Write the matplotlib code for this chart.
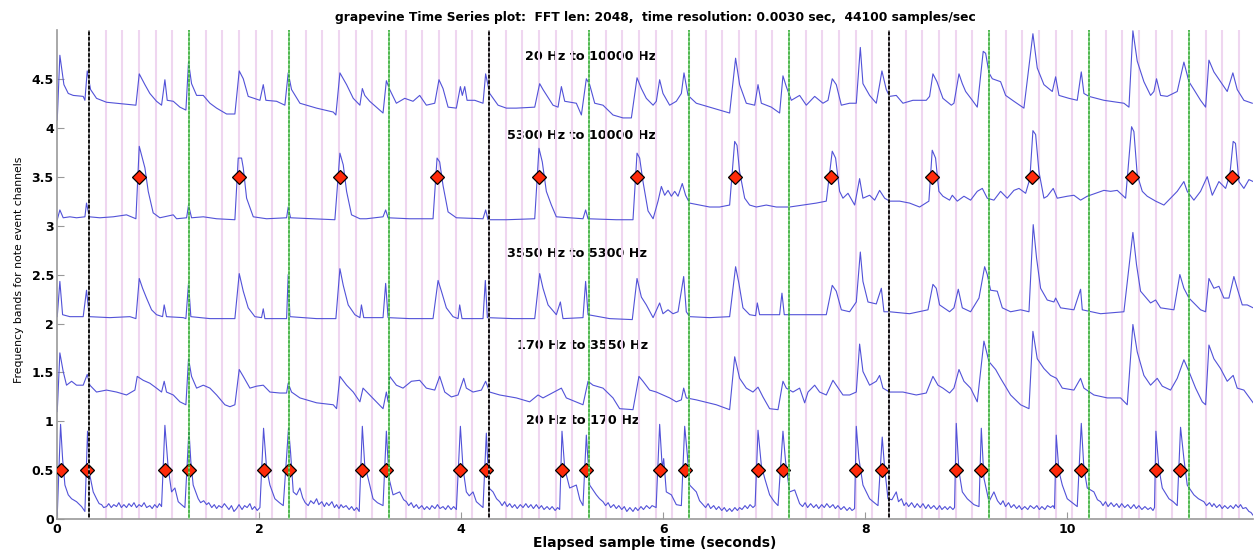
#!/usr/bin/env python3
# coding: utf-8

"""
grapevine 时间序列图：各频带能量曲线 + 节拍网格 + 音符事件标记
"""

import numpy as np
import matplotlib.pyplot as plt

plt.rcParams['font.family'] = ['DejaVu Sans']

# ---------------- 数据 ----------------
# 各频带曲线 (时间秒, 数值)
band1_pts = [
    (0.000, 4.08), (0.026, 4.74), (0.066, 4.44), (0.109, 4.35), (0.158, 4.33), (0.257, 4.32), (0.274, 4.28),
    (0.297, 4.58), (0.330, 4.39), (0.389, 4.30), (0.488, 4.26), (0.686, 4.24), (0.779, 4.23), (0.812, 4.55),
    (0.868, 4.44), (0.917, 4.35), (0.983, 4.27), (1.033, 4.23), (1.066, 4.49), (1.089, 4.28), (1.149, 4.27),
    (1.215, 4.21), (1.274, 4.18), (1.300, 4.67), (1.330, 4.45), (1.380, 4.33), (1.446, 4.33), (1.512, 4.25),
    (1.578, 4.20), (1.677, 4.14), (1.759, 4.14), (1.802, 4.58), (1.842, 4.50), (1.891, 4.32), (2.007, 4.28),
    (2.040, 4.44), (2.066, 4.28), (2.172, 4.27), (2.254, 4.23), (2.287, 4.56), (2.320, 4.39), (2.403, 4.25),
    (2.568, 4.20), (2.733, 4.16), (2.759, 4.13), (2.799, 4.56), (2.865, 4.44), (2.931, 4.30), (2.997, 4.23),
    (3.021, 4.40), (3.045, 4.33), (3.094, 4.27), (3.193, 4.18), (3.226, 4.15), (3.259, 4.48), (3.292, 4.39),
    (3.358, 4.25), (3.441, 4.30), (3.523, 4.27), (3.589, 4.33), (3.655, 4.23), (3.738, 4.25), (3.780, 4.49),
    (3.820, 4.40), (3.870, 4.21), (3.952, 4.20), (3.992, 4.42), (4.011, 4.33), (4.035, 4.42), (4.058, 4.28),
    (4.134, 4.28), (4.216, 4.25), (4.242, 4.55), (4.282, 4.35), (4.365, 4.23), (4.447, 4.20), (4.546, 4.20),
    (4.728, 4.21), (4.777, 4.45), (4.810, 4.39), (4.909, 4.23), (4.959, 4.21), (4.992, 4.42), (5.025, 4.27),
    (5.140, 4.25), (5.190, 4.13), (5.239, 4.50), (5.272, 4.44), (5.322, 4.25), (5.404, 4.23), (5.503, 4.13),
    (5.602, 4.10), (5.685, 4.10), (5.741, 4.51), (5.784, 4.40), (5.833, 4.30), (5.900, 4.23), (5.932, 4.27),
    (5.965, 4.49), (5.998, 4.35), (6.064, 4.23), (6.130, 4.27), (6.180, 4.35), (6.206, 4.56), (6.246, 4.33),
    (6.328, 4.25), (6.460, 4.21), (6.625, 4.16), (6.658, 4.15), (6.717, 4.71), (6.757, 4.44), (6.823, 4.25),
    (6.906, 4.23), (6.939, 4.44), (6.972, 4.25), (7.071, 4.21), (7.153, 4.15), (7.186, 4.53), (7.219, 4.42),
    (7.269, 4.28), (7.351, 4.33), (7.417, 4.23), (7.500, 4.32), (7.582, 4.25), (7.632, 4.28), (7.674, 4.50),
    (7.714, 4.44), (7.764, 4.23), (7.846, 4.25), (7.912, 4.25), (7.952, 4.82), (7.978, 4.45), (8.044, 4.33),
    (8.110, 4.25), (8.143, 4.44), (8.166, 4.58), (8.209, 4.39), (8.242, 4.32), (8.308, 4.33), (8.374, 4.25),
    (8.473, 4.28), (8.605, 4.28), (8.638, 4.32), (8.671, 4.55), (8.711, 4.47), (8.770, 4.30), (8.853, 4.23),
    (8.879, 4.25), (8.929, 4.55), (8.962, 4.45), (8.995, 4.37), (9.061, 4.28), (9.110, 4.21), (9.169, 4.78),
    (9.193, 4.76), (9.226, 4.56), (9.259, 4.50), (9.341, 4.47), (9.391, 4.33), (9.473, 4.27), (9.572, 4.20),
    (9.661, 4.96), (9.704, 4.61), (9.770, 4.44), (9.853, 4.37), (9.886, 4.52), (9.919, 4.33), (10.018, 4.30),
    (10.100, 4.28), (10.140, 4.57), (10.166, 4.35), (10.216, 4.32), (10.364, 4.28), (10.562, 4.25),
    (10.612, 4.21), (10.651, 4.99), (10.694, 4.68), (10.760, 4.47), (10.826, 4.33), (10.859, 4.37),
    (10.885, 4.50), (10.925, 4.33), (10.991, 4.32), (11.090, 4.37), (11.156, 4.67), (11.206, 4.47),
    (11.255, 4.39), (11.321, 4.28), (11.371, 4.21), (11.404, 4.69), (11.453, 4.57), (11.519, 4.47),
    (11.585, 4.37), (11.641, 4.56), (11.684, 4.39), (11.750, 4.28), (11.833, 4.25),
]

band2_pts = [
    (0.000, 3.06), (0.026, 3.16), (0.059, 3.08), (0.125, 3.09), (0.191, 3.08), (0.274, 3.09), (0.290, 3.23),
    (0.317, 3.09), (0.422, 3.08), (0.554, 3.09), (0.686, 3.11), (0.779, 3.07), (0.812, 3.81), (0.835, 3.72),
    (0.868, 3.59), (0.901, 3.35), (0.950, 3.13), (1.016, 3.08), (1.149, 3.11), (1.182, 3.07), (1.281, 3.08),
    (1.300, 3.21), (1.330, 3.08), (1.446, 3.09), (1.578, 3.07), (1.759, 3.06), (1.792, 3.69), (1.825, 3.69),
    (1.842, 3.59), (1.875, 3.28), (1.941, 3.09), (2.073, 3.07), (2.271, 3.08), (2.287, 3.19), (2.310, 3.08),
    (2.535, 3.07), (2.749, 3.06), (2.799, 3.74), (2.832, 3.62), (2.865, 3.35), (2.914, 3.11), (2.997, 3.07),
    (3.061, 3.07), (3.226, 3.09), (3.252, 3.16), (3.276, 3.08), (3.490, 3.07), (3.721, 3.07), (3.761, 3.69),
    (3.787, 3.65), (3.820, 3.41), (3.870, 3.14), (3.952, 3.08), (4.216, 3.07), (4.242, 3.16), (4.266, 3.06),
    (4.447, 3.06), (4.728, 3.07), (4.770, 3.79), (4.803, 3.65), (4.843, 3.35), (4.893, 3.21), (4.942, 3.09),
    (5.206, 3.07), (5.232, 3.16), (5.256, 3.07), (5.536, 3.06), (5.701, 3.06), (5.741, 3.74), (5.767, 3.69),
    (5.800, 3.45), (5.850, 3.15), (5.900, 3.07), (5.949, 3.25), (5.982, 3.40), (6.015, 3.31), (6.048, 3.36),
    (6.081, 3.30), (6.114, 3.35), (6.147, 3.30), (6.189, 3.43), (6.222, 3.31), (6.262, 3.23), (6.361, 3.21),
    (6.460, 3.19), (6.559, 3.19), (6.658, 3.21), (6.708, 3.86), (6.731, 3.82), (6.757, 3.55), (6.807, 3.28),
    (6.856, 3.21), (6.922, 3.19), (7.021, 3.21), (7.120, 3.19), (7.252, 3.19), (7.384, 3.21), (7.516, 3.23),
    (7.615, 3.25), (7.674, 3.76), (7.707, 3.69), (7.747, 3.35), (7.780, 3.28), (7.830, 3.33), (7.896, 3.21),
    (7.945, 3.48), (7.978, 3.28), (8.044, 3.31), (8.094, 3.26), (8.143, 3.36), (8.193, 3.28), (8.242, 3.25),
    (8.341, 3.25), (8.440, 3.23), (8.539, 3.19), (8.631, 3.25), (8.664, 3.77), (8.697, 3.69), (8.730, 3.35),
    (8.770, 3.30), (8.836, 3.26), (8.863, 3.31), (8.912, 3.25), (8.978, 3.30), (9.044, 3.26), (9.110, 3.35),
    (9.160, 3.38), (9.209, 3.28), (9.275, 3.26), (9.341, 3.35), (9.407, 3.28), (9.473, 3.36), (9.523, 3.38),
    (9.589, 3.33), (9.631, 3.48), (9.661, 3.97), (9.688, 3.93), (9.721, 3.55), (9.770, 3.28), (9.803, 3.30),
    (9.862, 3.38), (9.902, 3.28), (10.001, 3.30), (10.067, 3.31), (10.133, 3.26), (10.199, 3.30),
    (10.282, 3.33), (10.364, 3.36), (10.430, 3.35), (10.496, 3.36), (10.579, 3.28), (10.638, 4.01),
    (10.661, 3.96), (10.694, 3.52), (10.744, 3.35), (10.793, 3.30), (10.876, 3.25), (10.958, 3.21),
    (11.024, 3.28), (11.090, 3.35), (11.156, 3.45), (11.189, 3.35), (11.255, 3.26), (11.321, 3.35),
    (11.387, 3.50), (11.437, 3.31), (11.503, 3.45), (11.569, 3.38), (11.611, 3.52), (11.644, 3.86),
    (11.667, 3.84), (11.701, 3.45), (11.750, 3.38), (11.800, 3.47), (11.842, 3.45),
]

band3_pts = [
    (0.000, 2.07), (0.026, 2.43), (0.053, 2.09), (0.125, 2.07), (0.257, 2.07), (0.290, 2.34), (0.317, 2.07),
    (0.521, 2.06), (0.719, 2.07), (0.779, 2.05), (0.812, 2.46), (0.845, 2.36), (0.884, 2.26), (0.934, 2.14),
    (0.983, 2.09), (1.043, 2.07), (1.059, 2.19), (1.082, 2.07), (1.248, 2.06), (1.274, 2.05), (1.300, 2.41),
    (1.323, 2.07), (1.512, 2.05), (1.759, 2.05), (1.802, 2.51), (1.842, 2.33), (1.891, 2.16), (1.957, 2.07),
    (2.023, 2.06), (2.040, 2.15), (2.056, 2.05), (2.271, 2.05), (2.287, 2.50), (2.304, 2.07), (2.568, 2.05),
    (2.759, 2.05), (2.799, 2.56), (2.832, 2.39), (2.881, 2.19), (2.947, 2.09), (2.997, 2.06), (3.012, 2.19),
    (3.035, 2.06), (3.226, 2.06), (3.252, 2.41), (3.276, 2.06), (3.490, 2.05), (3.721, 2.05), (3.771, 2.44),
    (3.804, 2.33), (3.853, 2.16), (3.919, 2.07), (3.969, 2.05), (3.985, 2.19), (4.008, 2.05), (4.216, 2.05),
    (4.239, 2.44), (4.259, 2.06), (4.513, 2.05), (4.728, 2.05), (4.777, 2.51), (4.810, 2.36), (4.860, 2.19),
    (4.942, 2.09), (4.982, 2.22), (5.008, 2.05), (5.206, 2.06), (5.232, 2.43), (5.256, 2.09), (5.470, 2.05),
    (5.694, 2.04), (5.741, 2.46), (5.784, 2.27), (5.833, 2.19), (5.900, 2.06), (5.965, 2.21), (5.998, 2.10),
    (6.048, 2.14), (6.097, 2.10), (6.147, 2.12), (6.203, 2.48), (6.229, 2.12), (6.262, 2.07), (6.460, 2.06),
    (6.658, 2.07), (6.717, 2.58), (6.750, 2.41), (6.790, 2.16), (6.856, 2.09), (6.915, 2.08), (6.932, 2.21),
    (6.955, 2.09), (7.153, 2.09), (7.176, 2.31), (7.199, 2.09), (7.384, 2.09), (7.615, 2.09), (7.674, 2.39),
    (7.714, 2.33), (7.764, 2.14), (7.846, 2.12), (7.912, 2.22), (7.952, 2.73), (7.978, 2.43), (8.028, 2.22),
    (8.110, 2.20), (8.160, 2.36), (8.186, 2.12), (8.242, 2.12), (8.440, 2.10), (8.622, 2.14), (8.671, 2.40),
    (8.704, 2.36), (8.737, 2.19), (8.836, 2.12), (8.879, 2.16), (8.922, 2.35), (8.962, 2.16), (9.044, 2.12),
    (9.127, 2.26), (9.183, 2.58), (9.209, 2.50), (9.242, 2.34), (9.308, 2.33), (9.358, 2.16), (9.440, 2.12),
    (9.539, 2.14), (9.622, 2.12), (9.664, 3.01), (9.697, 2.67), (9.737, 2.36), (9.803, 2.24), (9.869, 2.22),
    (9.886, 2.26), (9.935, 2.16), (10.067, 2.14), (10.133, 2.35), (10.150, 2.14), (10.331, 2.10),
    (10.562, 2.12), (10.651, 2.93), (10.687, 2.60), (10.727, 2.33), (10.826, 2.21), (10.876, 2.24),
    (10.925, 2.16), (11.057, 2.14), (11.116, 2.50), (11.156, 2.36), (11.206, 2.26), (11.321, 2.14),
    (11.371, 2.12), (11.404, 2.46), (11.453, 2.36), (11.503, 2.38), (11.552, 2.26), (11.602, 2.26),
    (11.651, 2.48), (11.684, 2.36), (11.734, 2.19), (11.783, 2.19), (11.842, 2.16),
]

band4_pts = [
    (0.000, 1.10), (0.026, 1.70), (0.059, 1.51), (0.092, 1.37), (0.142, 1.41), (0.191, 1.37), (0.257, 1.37),
    (0.297, 1.48), (0.323, 1.37), (0.389, 1.30), (0.488, 1.32), (0.587, 1.30), (0.686, 1.27), (0.769, 1.32),
    (0.792, 1.46), (0.851, 1.42), (0.917, 1.39), (0.983, 1.34), (1.033, 1.30), (1.059, 1.41), (1.082, 1.30),
    (1.149, 1.27), (1.215, 1.20), (1.274, 1.17), (1.300, 1.64), (1.330, 1.46), (1.380, 1.34), (1.446, 1.37),
    (1.512, 1.34), (1.578, 1.27), (1.660, 1.17), (1.710, 1.15), (1.759, 1.17), (1.802, 1.53), (1.842, 1.46),
    (1.908, 1.34), (1.974, 1.36), (2.040, 1.37), (2.106, 1.30), (2.205, 1.29), (2.271, 1.29), (2.287, 1.39),
    (2.320, 1.30), (2.403, 1.24), (2.568, 1.19), (2.733, 1.17), (2.766, 1.13), (2.799, 1.46), (2.865, 1.37),
    (2.931, 1.30), (2.997, 1.20), (3.028, 1.34), (3.094, 1.27), (3.160, 1.20), (3.226, 1.13), (3.259, 1.30),
    (3.276, 1.20), (3.292, 1.46), (3.358, 1.37), (3.424, 1.34), (3.507, 1.41), (3.589, 1.42), (3.655, 1.34),
    (3.738, 1.32), (3.787, 1.46), (3.837, 1.30), (3.903, 1.25), (3.969, 1.27), (4.025, 1.44), (4.051, 1.34),
    (4.117, 1.30), (4.200, 1.32), (4.242, 1.41), (4.282, 1.30), (4.381, 1.27), (4.546, 1.24), (4.678, 1.20),
    (4.761, 1.27), (4.810, 1.24), (4.992, 1.34), (5.041, 1.24), (5.206, 1.17), (5.256, 1.41), (5.305, 1.37),
    (5.404, 1.34), (5.503, 1.24), (5.569, 1.13), (5.701, 1.12), (5.760, 1.46), (5.800, 1.41), (5.866, 1.32),
    (5.932, 1.30), (5.998, 1.27), (6.064, 1.24), (6.130, 1.20), (6.180, 1.22), (6.203, 1.34), (6.229, 1.24),
    (6.328, 1.22), (6.526, 1.17), (6.658, 1.12), (6.708, 1.66), (6.757, 1.44), (6.823, 1.34), (6.889, 1.30),
    (6.939, 1.35), (6.988, 1.25), (7.054, 1.13), (7.137, 1.12), (7.186, 1.41), (7.219, 1.34), (7.285, 1.30),
    (7.351, 1.34), (7.401, 1.19), (7.434, 1.30), (7.500, 1.37), (7.549, 1.30), (7.615, 1.27), (7.681, 1.42),
    (7.714, 1.37), (7.780, 1.27), (7.846, 1.27), (7.912, 1.30), (7.945, 1.79), (7.978, 1.51), (8.044, 1.37),
    (8.110, 1.41), (8.143, 1.47), (8.176, 1.34), (8.242, 1.30), (8.374, 1.30), (8.506, 1.27), (8.605, 1.29),
    (8.671, 1.46), (8.721, 1.37), (8.770, 1.34), (8.836, 1.29), (8.879, 1.34), (8.929, 1.53), (8.978, 1.41),
    (9.044, 1.34), (9.110, 1.20), (9.176, 1.82), (9.226, 1.61), (9.292, 1.53), (9.341, 1.44), (9.440, 1.27),
    (9.539, 1.17), (9.622, 1.13), (9.661, 1.92), (9.704, 1.64), (9.770, 1.54), (9.836, 1.47), (9.895, 1.44),
    (9.952, 1.34), (10.067, 1.32), (10.133, 1.44), (10.166, 1.34), (10.265, 1.27), (10.397, 1.24),
    (10.529, 1.24), (10.595, 1.17), (10.651, 1.99), (10.694, 1.71), (10.760, 1.47), (10.826, 1.37),
    (10.892, 1.44), (10.942, 1.36), (11.024, 1.32), (11.090, 1.44), (11.156, 1.63), (11.206, 1.51),
    (11.272, 1.34), (11.338, 1.20), (11.371, 1.17), (11.404, 1.78), (11.453, 1.64), (11.519, 1.54),
    (11.585, 1.41), (11.644, 1.47), (11.684, 1.34), (11.750, 1.32), (11.842, 1.19),
]

band5_pts = [
    (0.000, 0.04), (0.033, 0.97), (0.053, 0.62), (0.076, 0.35), (0.109, 0.25), (0.142, 0.21), (0.191, 0.18),
    (0.241, 0.13), (0.274, 0.08), (0.300, 0.90), (0.323, 0.45), (0.356, 0.28), (0.389, 0.21), (0.415, 0.16),
    (0.439, 0.15), (0.460, 0.12), (0.488, 0.13), (0.510, 0.16), (0.535, 0.12), (0.560, 0.15), (0.587, 0.13),
    (0.610, 0.17), (0.635, 0.12), (0.660, 0.15), (0.686, 0.12), (0.710, 0.16), (0.735, 0.13), (0.760, 0.17),
    (0.785, 0.12), (0.810, 0.15), (0.835, 0.13), (0.860, 0.17), (0.885, 0.12), (0.917, 0.14), (0.940, 0.11),
    (0.965, 0.15), (0.990, 0.12), (1.012, 0.16), (1.033, 0.13), (1.066, 0.96), (1.099, 0.52), (1.132, 0.28),
    (1.165, 0.32), (1.198, 0.18), (1.230, 0.15), (1.264, 0.12), (1.304, 0.91), (1.323, 0.59), (1.346, 0.35),
    (1.396, 0.21), (1.420, 0.17), (1.450, 0.19), (1.479, 0.15), (1.500, 0.17), (1.530, 0.12), (1.555, 0.15),
    (1.578, 0.11), (1.600, 0.14), (1.630, 0.12), (1.655, 0.16), (1.677, 0.13), (1.700, 0.10), (1.725, 0.14),
    (1.750, 0.08), (1.776, 0.11), (1.800, 0.15), (1.830, 0.10), (1.855, 0.14), (1.880, 0.12), (1.908, 0.16),
    (1.930, 0.10), (1.955, 0.13), (1.980, 0.09), (2.007, 0.12), (2.043, 0.93), (2.073, 0.52), (2.106, 0.35),
    (2.155, 0.21), (2.200, 0.17), (2.238, 0.14), (2.290, 0.93), (2.310, 0.69), (2.337, 0.28), (2.370, 0.25),
    (2.403, 0.32), (2.430, 0.22), (2.455, 0.17), (2.485, 0.14), (2.510, 0.19), (2.540, 0.16), (2.568, 0.21),
    (2.590, 0.15), (2.620, 0.18), (2.645, 0.13), (2.667, 0.17), (2.690, 0.14), (2.720, 0.18), (2.745, 0.12),
    (2.766, 0.15), (2.790, 0.11), (2.810, 0.15), (2.832, 0.12), (2.860, 0.14), (2.890, 0.10), (2.915, 0.13),
    (2.940, 0.09), (2.965, 0.12), (2.990, 0.08), (3.021, 0.95), (3.045, 0.55), (3.078, 0.42), (3.127, 0.21),
    (3.170, 0.17), (3.226, 0.14), (3.259, 0.90), (3.285, 0.42), (3.325, 0.25), (3.391, 0.28), (3.430, 0.20),
    (3.457, 0.18), (3.480, 0.14), (3.505, 0.17), (3.530, 0.12), (3.556, 0.15), (3.580, 0.11), (3.610, 0.14),
    (3.635, 0.10), (3.660, 0.13), (3.688, 0.10), (3.710, 0.14), (3.740, 0.11), (3.765, 0.15), (3.790, 0.11),
    (3.820, 0.13), (3.845, 0.10), (3.870, 0.14), (3.900, 0.10), (3.925, 0.13), (3.952, 0.10), (3.992, 0.95),
    (4.018, 0.52), (4.051, 0.28), (4.080, 0.24), (4.117, 0.28), (4.150, 0.18), (4.183, 0.15), (4.216, 0.12),
    (4.249, 0.88), (4.275, 0.32), (4.315, 0.28), (4.350, 0.21), (4.381, 0.18), (4.405, 0.14), (4.430, 0.18),
    (4.455, 0.13), (4.480, 0.16), (4.505, 0.12), (4.530, 0.15), (4.555, 0.11), (4.585, 0.15), (4.612, 0.12),
    (4.640, 0.16), (4.665, 0.12), (4.690, 0.15), (4.715, 0.11), (4.744, 0.15), (4.770, 0.11), (4.795, 0.14),
    (4.820, 0.10), (4.850, 0.13), (4.876, 0.10), (4.900, 0.13), (4.930, 0.09), (4.955, 0.12), (4.975, 0.10),
    (4.998, 0.90), (5.025, 0.52), (5.074, 0.32), (5.140, 0.35), (5.175, 0.20), (5.206, 0.14), (5.239, 0.86),
    (5.272, 0.35), (5.338, 0.25), (5.370, 0.21), (5.404, 0.18), (5.430, 0.14), (5.455, 0.17), (5.480, 0.12),
    (5.510, 0.15), (5.536, 0.11), (5.560, 0.14), (5.590, 0.10), (5.615, 0.13), (5.640, 0.08), (5.670, 0.12),
    (5.701, 0.08), (5.725, 0.12), (5.750, 0.09), (5.780, 0.13), (5.805, 0.10), (5.835, 0.14), (5.866, 0.11),
    (5.890, 0.14), (5.930, 0.12), (5.965, 0.97), (5.991, 0.52), (6.005, 0.62), (6.031, 0.28), (6.081, 0.25),
    (6.130, 0.15), (6.180, 0.14), (6.213, 0.95), (6.239, 0.66), (6.262, 0.35), (6.328, 0.28), (6.360, 0.19),
    (6.394, 0.15), (6.420, 0.12), (6.445, 0.16), (6.470, 0.11), (6.500, 0.14), (6.526, 0.10), (6.550, 0.13),
    (6.580, 0.09), (6.605, 0.12), (6.630, 0.08), (6.658, 0.11), (6.680, 0.08), (6.710, 0.12), (6.735, 0.09),
    (6.757, 0.12), (6.780, 0.10), (6.810, 0.14), (6.835, 0.11), (6.860, 0.15), (6.889, 0.12), (6.910, 0.14),
    (6.939, 0.91), (6.972, 0.55), (7.005, 0.42), (7.054, 0.25), (7.100, 0.18), (7.137, 0.14), (7.186, 0.90),
    (7.212, 0.59), (7.252, 0.28), (7.302, 0.30), (7.351, 0.16), (7.380, 0.13), (7.405, 0.17), (7.430, 0.12),
    (7.460, 0.16), (7.490, 0.12), (7.516, 0.15), (7.540, 0.11), (7.570, 0.15), (7.595, 0.12), (7.620, 0.16),
    (7.650, 0.12), (7.681, 0.15), (7.705, 0.11), (7.730, 0.14), (7.760, 0.10), (7.790, 0.13), (7.820, 0.09),
    (7.846, 0.12), (7.870, 0.09), (7.895, 0.11), (7.912, 0.95), (7.938, 0.62), (7.978, 0.35), (8.044, 0.21),
    (8.090, 0.17), (8.127, 0.14), (8.169, 0.84), (8.193, 0.52), (8.226, 0.21), (8.265, 0.20), (8.308, 0.28),
    (8.330, 0.18), (8.360, 0.21), (8.385, 0.14), (8.407, 0.17), (8.430, 0.13), (8.460, 0.17), (8.490, 0.12),
    (8.515, 0.16), (8.545, 0.12), (8.572, 0.16), (8.600, 0.11), (8.625, 0.15), (8.650, 0.11), (8.680, 0.14),
    (8.710, 0.10), (8.737, 0.14), (8.760, 0.10), (8.790, 0.13), (8.815, 0.10), (8.840, 0.13), (8.869, 0.10),
    (8.885, 0.12), (8.902, 0.98), (8.929, 0.49), (8.962, 0.28), (9.011, 0.21), (9.077, 0.15), (9.127, 0.13),
    (9.150, 0.93), (9.176, 0.42), (9.226, 0.18), (9.275, 0.28), (9.310, 0.19), (9.341, 0.15), (9.365, 0.19),
    (9.390, 0.13), (9.420, 0.17), (9.445, 0.12), (9.473, 0.15), (9.500, 0.11), (9.525, 0.14), (9.550, 0.10),
    (9.580, 0.13), (9.610, 0.10), (9.635, 0.14), (9.671, 0.11), (9.700, 0.14), (9.725, 0.10), (9.750, 0.13),
    (9.780, 0.10), (9.805, 0.14), (9.836, 0.12), (9.860, 0.14), (9.875, 0.11), (9.892, 0.86), (9.919, 0.49),
    (9.952, 0.35), (10.001, 0.21), (10.050, 0.17), (10.100, 0.13), (10.140, 0.98), (10.166, 0.52),
    (10.199, 0.32), (10.265, 0.28), (10.300, 0.20), (10.331, 0.18), (10.355, 0.14), (10.380, 0.18),
    (10.405, 0.13), (10.435, 0.17), (10.463, 0.13), (10.490, 0.16), (10.515, 0.12), (10.540, 0.16),
    (10.570, 0.12), (10.600, 0.15), (10.630, 0.11), (10.661, 0.15), (10.685, 0.11), (10.710, 0.14),
    (10.740, 0.10), (10.770, 0.13), (10.800, 0.10), (10.826, 0.12), (10.850, 0.09), (10.865, 0.12),
    (10.879, 0.90), (10.909, 0.52), (10.942, 0.32), (11.008, 0.21), (11.050, 0.18), (11.090, 0.14),
    (11.123, 0.94), (11.156, 0.62), (11.189, 0.35), (11.255, 0.25), (11.300, 0.21), (11.354, 0.18),
    (11.380, 0.14), (11.410, 0.17), (11.435, 0.13), (11.453, 0.16), (11.480, 0.12), (11.510, 0.15),
    (11.535, 0.11), (11.560, 0.14), (11.590, 0.11), (11.618, 0.14), (11.645, 0.11), (11.670, 0.15),
    (11.695, 0.12), (11.717, 0.15), (11.740, 0.11), (11.770, 0.12), (11.800, 0.08), (11.820, 0.07),
    (11.842, 0.04),
]

# 频带名称及其标注位置 (x 秒, y)
band_names = ['20 Hz to 10000 Hz', '5300 Hz to 10000 Hz', '3550 Hz to 5300 Hz',
              '170 Hz to 3550 Hz', '20 Hz to 170 Hz']
band_label_x = [5.28, 5.19, 5.15, 5.205, 5.205]
band_label_y = [4.725, 3.925, 2.717, 1.78, 1.007]

# 音符事件 (红色菱形)
low_events_t = [0.036, 0.297, 1.066, 1.307, 2.043, 2.290, 3.021, 3.252, 3.992, 4.242, 4.998, 5.232,
                5.965, 6.213, 6.939, 7.186, 7.912, 8.169, 8.902, 9.143, 9.892, 10.140, 10.879, 11.116]
low_events_y = 0.5
high_events_t = [0.812, 1.802, 2.799, 3.761, 4.770, 5.741, 6.708, 7.665, 8.664, 9.655, 10.638, 11.635]
high_events_y = 3.5

# 节拍网格：小节线(黑)、拍线(绿)、细分线(粉)
bar_lines = [0.316, 4.276, 8.236]
beat_lines = [1.306, 2.296, 3.286, 5.266, 6.256, 7.246, 9.226, 10.216, 11.206]
sub_step = 0.165
sub_end = 11.71

x_ticks = [0, 2, 4, 6, 8, 10]
y_ticks = [0, 0.5, 1, 1.5, 2, 2.5, 3, 3.5, 4, 4.5]
y_tick_labels = ['0', '0.5', '1', '1.5', '2', '2.5', '3', '3.5', '4', '4.5']

title_text = ('grapevine Time Series plot:  FFT len: 2048,  time resolution: 0.0030 sec,  '
              '44100 samples/sec')


def draw_grid(ax):
    """节拍网格竖线"""
    sub_lines = np.arange(bar_lines[0] + sub_step, sub_end + 1e-6, sub_step)
    for x in sub_lines:
        ax.axvline(x, color='#efd6f0', lw=1.5, zorder=1)
    for x in beat_lines:
        ax.axvline(x, color='#22b022', lw=1.1, zorder=4)
        ax.axvline(x, color='#a6e6a6', lw=1.1, ls=(0, (1, 2)), zorder=4.1)
    for x in bar_lines:
        ax.axvline(x, color='black', lw=1.3, zorder=4)
        ax.axvline(x, color='#bbbbbb', lw=1.3, ls=(0, (1, 2)), zorder=4.1)


def main():
    fig = plt.figure(figsize=(12.58, 5.5), dpi=100)
    ax = fig.add_axes([0.0455, 0.0558, 0.9505, 0.890])

    draw_grid(ax)

    # 各频带曲线
    for pts in [band1_pts, band2_pts, band3_pts, band4_pts, band5_pts]:
        arr = np.array(pts)
        ax.plot(arr[:, 0], arr[:, 1], color='#5252d8', lw=0.8, zorder=2)

    # 音符事件
    ax.plot(low_events_t, [low_events_y] * len(low_events_t), 'D', ms=6.8,
            mfc='#ff2a0a', mec='black', mew=0.9, zorder=3)
    ax.plot(high_events_t, [high_events_y] * len(high_events_t), 'D', ms=6.8,
            mfc='#ff2a0a', mec='black', mew=0.9, zorder=3)

    # 频带标签
    for name, x, y in zip(band_names, band_label_x, band_label_y):
        ax.text(x, y, name, ha='center', va='center', fontsize=9.2, fontweight='bold', zorder=0.5)

    ax.set_xlim(0, 11.84)
    ax.set_ylim(0, 5)
    ax.set_xticks(x_ticks)
    ax.set_yticks(y_ticks)
    ax.set_yticklabels(y_tick_labels)
    ax.tick_params(direction='in', length=5, color='#999999', labelsize=9, pad=2.5)
    for lab in ax.get_xticklabels() + ax.get_yticklabels():
        lab.set_fontweight('bold')

    for side in ['top', 'right']:
        ax.spines[side].set_visible(False)
    for side in ['left', 'bottom']:
        ax.spines[side].set_color('#9a9a9a')
        ax.spines[side].set_linewidth(1.2)

    ax.set_xlabel('Elapsed sample time (seconds)', fontsize=10, fontweight='bold', labelpad=0)
    ax.set_ylabel('Frequency bands for note event channels', fontsize=7.8)
    ax.yaxis.set_label_coords(-0.028, 0.51)
    ax.set_title(title_text, fontsize=8.8, fontweight='bold', pad=6)

    plt.savefig('out.png', dpi=100)
    print('out.png is saved.')


if __name__ == '__main__':
    main()
